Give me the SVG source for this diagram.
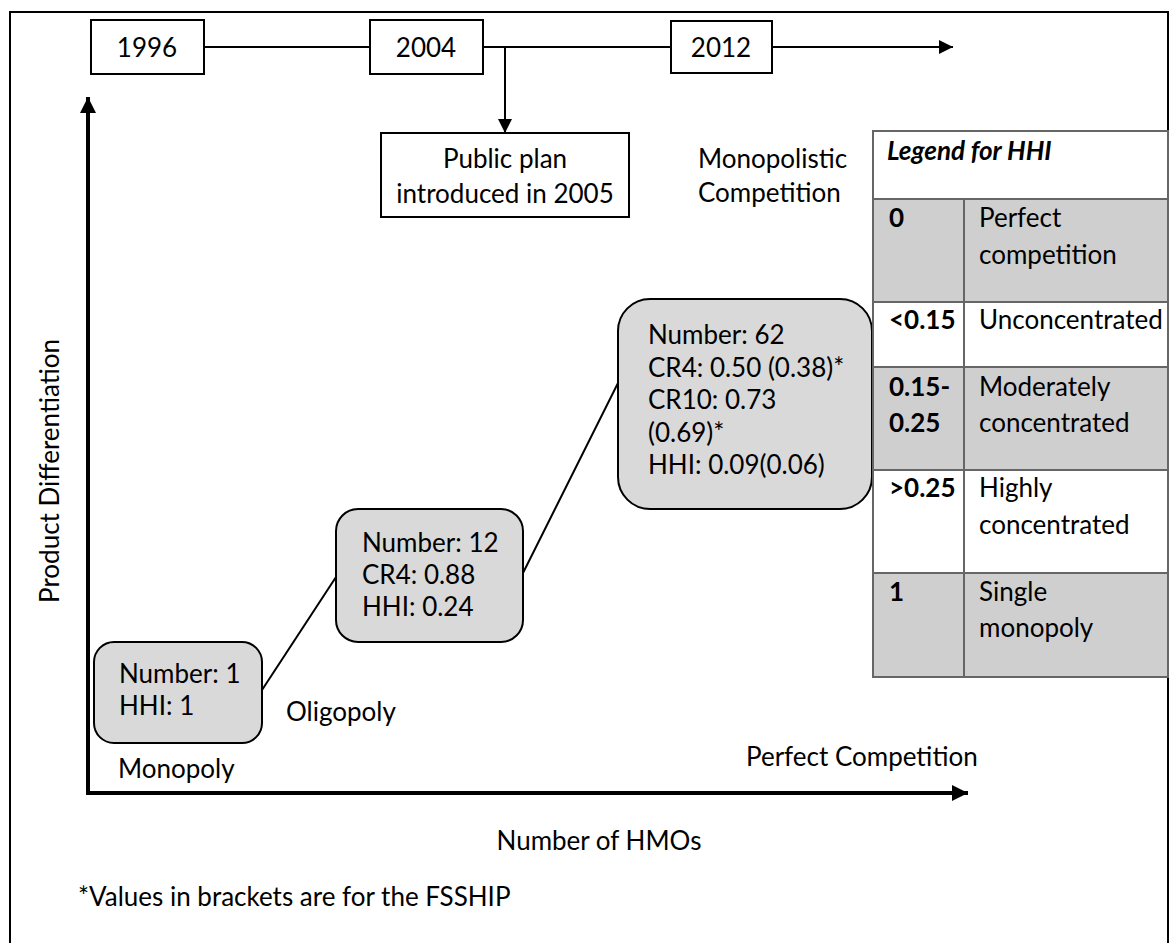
<svg xmlns="http://www.w3.org/2000/svg" width="1171" height="943" viewBox="0 0 1171 943">
<style>
text{font-family:Lato,"Open Sans","Liberation Sans",sans-serif;font-size:26px;fill:#000}
.yr{text-anchor:middle}
.tl{fill:#fff;stroke:#000;stroke-width:2}
.rb{fill:#d9d9d9;stroke:#000;stroke-width:2}
.thin{stroke:#000;stroke-width:2;fill:none}
.axis{stroke:#000;stroke-width:4;fill:none}
.cellg{fill:#cfcfcf;stroke:#666;stroke-width:2}
.cellw{fill:#fff;stroke:#666;stroke-width:2}
.b{font-weight:bold}
</style>
<defs>
<marker id="ah" viewBox="0 0 10 10" refX="10" refY="5" markerWidth="7" markerHeight="7" markerUnits="strokeWidth" orient="auto"><path d="M0,0 L10,5 L0,10 z" fill="#000"/></marker>
<marker id="ahb" viewBox="0 0 10 10" refX="10" refY="5" markerWidth="4" markerHeight="4" markerUnits="strokeWidth" orient="auto"><path d="M0,0 L10,5 L0,10 z" fill="#000"/></marker>
</defs>
<rect x="10" y="12" width="1158" height="950" fill="#fff" stroke="#000" stroke-width="2"/>

<g id="connectors">
<line class="thin" x1="204" y1="47" x2="370" y2="47"/>
<line class="thin" x1="483" y1="47" x2="671" y2="47"/>
<line class="thin" x1="772" y1="47" x2="953" y2="47" marker-end="url(#ah)"/>
<line class="thin" x1="505" y1="47" x2="505" y2="133" marker-end="url(#ah)"/>
<line class="axis" x1="88" y1="794" x2="88" y2="97" marker-end="url(#ahb)"/>
<line class="axis" x1="86" y1="793" x2="968" y2="793" marker-end="url(#ahb)"/>
<line class="thin" x1="262" y1="690" x2="336" y2="577"/>
<line class="thin" x1="523" y1="573" x2="618" y2="383"/>
</g>

<g id="y1996"><rect class="tl" x="91" y="20" width="113" height="54"/><text class="yr" x="147" y="57">1996</text></g>
<g id="y2004"><rect class="tl" x="370" y="20" width="113" height="54"/><text class="yr" x="426" y="57">2004</text></g>
<g id="y2012"><rect class="tl" x="671" y="21" width="101" height="52"/><text class="yr" x="721" y="57">2012</text></g>

<g id="publicplan"><rect class="tl" x="381" y="133" width="248" height="84"/>
<text class="yr" x="505" y="168">Public plan</text>
<text class="yr" x="505" y="203">introduced in 2005</text></g>

<g id="monopolistic"><text x="698" y="168">Monopolistic</text><text x="698" y="202">Competition</text></g>

<g id="box-monopoly"><rect class="rb" x="94" y="642" width="168" height="101" rx="20"/>
<text x="119" y="683">Number: 1</text><text x="119" y="715">HHI: 1</text></g>

<g id="box-oligopoly"><rect class="rb" x="336" y="509" width="187" height="133" rx="22"/>
<text x="362" y="552">Number: 12</text><text x="362" y="584">CR4: 0.88</text><text x="362" y="616">HHI: 0.24</text></g>

<g id="box-monocomp"><rect class="rb" x="618" y="299" width="254" height="210" rx="32"/>
<text x="648" y="344">Number: 62</text><text x="648" y="377">CR4: 0.50 (0.38)*</text><text x="648" y="409">CR10: 0.73</text><text x="648" y="442">(0.69)*</text><text x="648" y="474">HHI: 0.09(0.06)</text></g>

<g id="lbl-monopoly"><text x="118" y="778">Monopoly</text></g>
<g id="lbl-oligopoly"><text x="286" y="721">Oligopoly</text></g>
<g id="lbl-perfect"><text x="746" y="766">Perfect Competition</text></g>
<g id="lbl-xaxis"><text class="yr" x="599" y="850">Number of HMOs</text></g>
<g id="lbl-yaxis"><text class="yr" font-size="28" transform="translate(59,471) rotate(-90)">Product Differentiation</text></g>
<g id="footnote"><text x="78" y="906">*Values in brackets are for the FSSHIP</text></g>

<g id="legend">
<rect class="cellw" x="873" y="131" width="295" height="68"/>
<text x="887" y="160" class="b" font-style="italic">Legend for HHI</text>
<rect class="cellg" x="873" y="199" width="91" height="103"/><rect class="cellg" x="964" y="199" width="204" height="103"/>
<rect class="cellw" x="873" y="302" width="91" height="65"/><rect class="cellw" x="964" y="302" width="204" height="65"/>
<rect class="cellg" x="873" y="367" width="91" height="103"/><rect class="cellg" x="964" y="367" width="204" height="103"/>
<rect class="cellw" x="873" y="470" width="91" height="103"/><rect class="cellw" x="964" y="470" width="204" height="103"/>
<rect class="cellg" x="873" y="573" width="91" height="104"/><rect class="cellg" x="964" y="573" width="204" height="104"/>
<text x="889" y="227" class="b">0</text><text x="979" y="227">Perfect</text><text x="979" y="264">competition</text>
<text x="889" y="329" class="b">&lt;0.15</text><text x="979" y="329">Unconcentrated</text>
<text x="889" y="396" class="b">0.15-</text><text x="889" y="432" class="b">0.25</text><text x="979" y="396">Moderately</text><text x="979" y="432">concentrated</text>
<text x="889" y="497" class="b">&gt;0.25</text><text x="979" y="497">Highly</text><text x="979" y="534">concentrated</text>
<text x="889" y="601" class="b">1</text><text x="979" y="601">Single</text><text x="979" y="637">monopoly</text>
</g>
</svg>
